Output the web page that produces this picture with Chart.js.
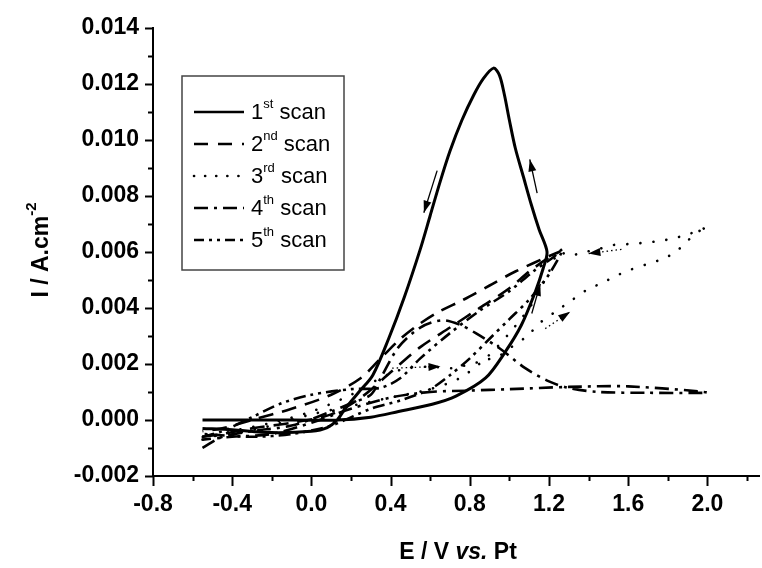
<!DOCTYPE html>
<html>
<head>
<meta charset="utf-8">
<script src="https://cdn.jsdelivr.net/npm/chart.js@4.4.1/dist/chart.umd.min.js"></script>
<style>
  html, body { margin: 0; padding: 0; background: #fff; }
  #wrap { position: relative; width: 762px; height: 568px; }
</style>
</head>
<body>
<div id="wrap"><canvas id="cv" width="762" height="568"></canvas></div>
<script>
// potential (V vs Pt) and current density (A/cm2) for each scan
const e1 = [-0.55, -0.2, 0.13, 0.3, 0.44, 0.61, 0.73, 0.88, 0.98, 1.06, 1.13, 1.17, 1.19,
            1.15, 1.11, 1.07, 1.03, 1.0, 0.975, 0.95, 0.92, 0.87, 0.82, 0.76, 0.7, 0.65, 0.6, 0.55,
            0.47, 0.39, 0.31, 0.24, 0.17, 0.13, 0.08, 0.0, -0.2, -0.4, -0.55];
const i1 = [0, 0, 0, 0.0001, 0.0003, 0.00056, 0.00085, 0.0015, 0.00244, 0.00338, 0.00456, 0.0054, 0.006,
            0.0068, 0.0077, 0.0087, 0.0097, 0.0107, 0.0116, 0.0123, 0.01256, 0.0122, 0.0116, 0.0107, 0.0096, 0.0085, 0.0073, 0.0061,
            0.0044, 0.0029, 0.0016, 0.001, 0.0004, 0.0, -0.00027, -0.0004, -0.00045, -0.00035, -0.0003];

const e2 = [-0.55, -0.45, -0.3, -0.1, 0.1, 0.25, 0.4, 0.55, 0.7, 0.85, 1.0, 1.1, 1.2, 1.25,
            1.03, 0.9, 0.77, 0.64, 0.54, 0.45, 0.35, 0.25, 0.1, -0.1, -0.3, -0.45, -0.55];
const i2 = [-0.0006, -0.0005, -0.0003, -0.0001, 0.0002, 0.0008, 0.0017, 0.0026, 0.0033, 0.004, 0.0047, 0.0053, 0.0058, 0.006,
            0.0053, 0.0048, 0.0043, 0.00385, 0.0034, 0.0029, 0.0022, 0.0015, 0.0009, 0.0004, 0.0, -0.0003, -0.0004];

const e3 = [-0.55, -0.4, -0.2, 0.0, 0.2, 0.35, 0.48, 0.61, 0.71, 0.79, 0.86, 0.95, 1.01, 1.09, 1.16, 1.24, 1.32,
            1.39, 1.47, 1.54, 1.61, 1.69, 1.77, 1.84, 1.9, 1.97, 2.0,
            1.97, 1.89, 1.82, 1.75, 1.67, 1.6, 1.52, 1.45, 1.37, 1.3, 1.25, 1.2, 1.12, 1.0, 0.88, 0.75,
            0.6, 0.4, 0.2, 0.0, -0.2, -0.4, -0.55];
const i3 = [-0.0007, -0.0004, -0.0001, 0.0003, 0.0009, 0.0015, 0.00185, 0.0019, 0.00185, 0.00197, 0.0021, 0.0023, 0.0026, 0.003, 0.0035, 0.0039, 0.0043,
            0.00464, 0.0049, 0.00515, 0.00536, 0.00555, 0.00574, 0.006, 0.0064, 0.0068, 0.0069,
            0.0068, 0.0066, 0.00647, 0.00638, 0.00632, 0.00628, 0.00624, 0.0061, 0.00598, 0.00586, 0.006, 0.0053, 0.0042, 0.0031, 0.0022, 0.0015,
            0.0011, 0.0008, 0.0005, 0.0002, -0.0002, -0.0005, -0.0006];

const e4 = [-0.55, -0.45, -0.3, -0.1, 0.1, 0.2, 0.3, 0.35, 0.44, 0.55, 0.66, 0.75, 0.83, 0.95, 1.08, 1.2, 1.3, 1.45, 1.7, 2.0,
            1.6, 1.3, 1.0, 0.8, 0.6, 0.4, 0.2, 0.0, -0.2, -0.4, -0.55];
const i4 = [-0.001, -0.0006, -0.0004, -0.0002, 0.0003, 0.0006, 0.0009, 0.0015, 0.0026, 0.0033, 0.00356, 0.0034, 0.0031, 0.00256, 0.00185, 0.00138, 0.00114, 0.001, 0.00097, 0.00098,
            0.0012, 0.00118, 0.0011, 0.00105, 0.001, 0.0008, 0.0004, -0.0001, -0.0005, -0.0006, -0.0007];

const e5 = [-0.55, -0.45, -0.3, -0.15, 0.0, 0.2, 0.35, 0.45, 0.55, 0.7, 0.85, 1.0, 1.12, 1.22, 1.27,
            1.2, 1.1, 1.0, 0.9, 0.8, 0.7, 0.6, 0.45, 0.3, 0.1, -0.1, -0.3, -0.55];
const i5 = [-0.0006, -0.0004, 0.0001, 0.0006, 0.0009, 0.0011, 0.00115, 0.0015, 0.0022, 0.0031, 0.0039, 0.0046, 0.0053, 0.0058, 0.0061,
            0.0052, 0.0043, 0.0036, 0.0029, 0.0022, 0.0016, 0.0011, 0.0007, 0.0004, -0.0002, -0.0005, -0.0006, -0.0005];

const scanNames = ['1st', '2nd', '3rd', '4th', '5th'];
const xTicks = [-0.8, -0.6, -0.4, -0.2, 0.0, 0.2, 0.4, 0.6, 0.8, 1.0, 1.2, 1.4, 1.6, 1.8, 2.0, 2.2];
const yTicks = [-0.002, -0.001, 0, 0.001, 0.002, 0.003, 0.004, 0.005, 0.006, 0.007, 0.008, 0.009, 0.010, 0.011, 0.012, 0.013, 0.014];

// direction arrows: [tailE, tailI, headE, headI, dotted shaft]
const arrows = [
  [0.635, 0.0089, 0.568, 0.0074, false],
  [1.14, 0.0081, 1.103, 0.0093, false],
  [1.566, 0.00609, 1.399, 0.00594, true],
  [1.181, 0.00326, 1.307, 0.00386, true],
  [0.408, 0.00185, 0.652, 0.00191, true],
  [1.113, 0.0038, 1.156, 0.00486, false]
];

const dashes = [[], [15, 9], [0.1, 13], [14, 6, 3, 6], [12, 5, 3, 5, 3, 5]];
const legendDashes = [[], [14, 10], [0.1, 11], [14, 6, 3, 6], [10, 5, 3, 5, 3, 5]];

function pts(es, is) { return es.map((e, k) => ({ x: e, y: is[k] })); }

const series = [[e1, i1], [e2, i2], [e3, i3], [e4, i4], [e5, i5]];
const datasets = series.map((s, k) => ({
  label: scanNames[k] + ' scan',
  data: pts(s[0], s[1]),
  showLine: true,
  borderColor: '#000',
  borderWidth: k === 0 ? 3 : 2.6,
  borderDash: dashes[k],
  borderCapStyle: k === 2 ? 'round' : 'butt',
  pointRadius: 0,
  tension: 0.3,
  fill: false
}));

const FONT = '"Liberation Sans", Arial, sans-serif';
const TICK_PX = 23;

function arrowHead(ctx, x0, y0, x1, y1, len, half) {
  const a = Math.atan2(y1 - y0, x1 - x0);
  ctx.beginPath();
  ctx.moveTo(x1, y1);
  ctx.lineTo(x1 - len * Math.cos(a) + half * Math.sin(a), y1 - len * Math.sin(a) - half * Math.cos(a));
  ctx.lineTo(x1 - len * Math.cos(a) - half * Math.sin(a), y1 - len * Math.sin(a) + half * Math.cos(a));
  ctx.closePath();
  ctx.fill();
}

const decor = {
  id: 'decor',
  afterDraw(chart) {
    const ctx = chart.ctx;
    const xs = chart.scales.x, ys = chart.scales.y;
    const area = chart.chartArea;
    ctx.save();
    ctx.strokeStyle = '#000';
    ctx.fillStyle = '#000';
    ctx.lineWidth = 2;
    ctx.setLineDash([]);

    // tick marks, long on labelled values
    xTicks.forEach((v, k) => {
      const px = Math.round(xs.getPixelForValue(v)) + 0.5;
      const len = k % 2 === 0 ? 10 : 5;
      ctx.beginPath(); ctx.moveTo(px, area.bottom); ctx.lineTo(px, area.bottom + len); ctx.stroke();
    });
    yTicks.forEach((v, k) => {
      const py = Math.round(ys.getPixelForValue(v)) + 0.5;
      const len = k % 2 === 0 ? 8 : 5;
      ctx.beginPath(); ctx.moveTo(area.left, py); ctx.lineTo(area.left - len, py); ctx.stroke();
    });

    // arrows
    arrows.forEach(a => {
      const x0 = xs.getPixelForValue(a[0]), y0 = ys.getPixelForValue(a[1]);
      const x1 = xs.getPixelForValue(a[2]), y1 = ys.getPixelForValue(a[3]);
      ctx.lineWidth = 1.3;
      ctx.setLineDash(a[4] ? [1.5, 3] : []);
      ctx.beginPath(); ctx.moveTo(x0, y0); ctx.lineTo(x1, y1); ctx.stroke();
      ctx.setLineDash([]);
      arrowHead(ctx, x0, y0, x1, y1, 12, 4);
    });

    // legend
    ctx.lineWidth = 1.5;
    ctx.strokeStyle = '#444';
    ctx.strokeRect(182, 76, 162, 194);
    ctx.strokeStyle = '#000';
    scanNames.forEach((n, k) => {
      const cy = 112 + k * 32;
      ctx.lineWidth = 2.6;
      ctx.lineCap = k === 2 ? 'round' : 'butt';
      ctx.setLineDash(legendDashes[k]);
      ctx.beginPath(); ctx.moveTo(194, cy); ctx.lineTo(244, cy); ctx.stroke();
      ctx.setLineDash([]);
      ctx.lineCap = 'butt';
      ctx.textBaseline = 'middle';
      ctx.textAlign = 'left';
      ctx.font = '22px ' + FONT;
      const num = n.charAt(0), sup = n.slice(1);
      ctx.fillText(num, 251, cy + 1);
      let x = 251 + ctx.measureText(num).width;
      ctx.font = '13px ' + FONT;
      ctx.fillText(sup, x, cy - 8);
      x += ctx.measureText(sup).width;
      ctx.font = '22px ' + FONT;
      ctx.fillText(' scan', x, cy + 1);
    });

    // axis titles
    ctx.fillStyle = '#000';
    ctx.textBaseline = 'middle';
    ctx.textAlign = 'left';
    const parts = [['E / V ', 'bold 23px '], ['vs.', 'italic bold 23px '], [' Pt', 'bold 23px ']];
    let w = 0;
    parts.forEach(p => { ctx.font = p[1] + FONT; w += ctx.measureText(p[0]).width; });
    let x = 458 - w / 2;
    parts.forEach(p => { ctx.font = p[1] + FONT; ctx.fillText(p[0], x, 553); x += ctx.measureText(p[0]).width; });

    ctx.translate(40, 250);
    ctx.rotate(-Math.PI / 2);
    ctx.font = 'bold 23px ' + FONT;
    const main = 'I / A.cm';
    const mw = ctx.measureText(main).width;
    ctx.font = 'bold 15px ' + FONT;
    const sw = ctx.measureText('-2').width;
    ctx.font = 'bold 23px ' + FONT;
    ctx.fillText(main, -(mw + sw) / 2, 2);
    ctx.font = 'bold 15px ' + FONT;
    ctx.fillText('-2', -(mw + sw) / 2 + mw, -8);
    ctx.restore();
  }
};

new Chart(document.getElementById('cv'), {
  type: 'scatter',
  data: { datasets: datasets },
  options: {
    responsive: false,
    animation: false,
    layout: { padding: { top: 24, right: 0, left: 0, bottom: 0 } },
    plugins: { legend: { display: false }, tooltip: { enabled: false } },
    scales: {
      x: {
        type: 'linear',
        min: -0.8,
        max: 2.265,
        afterBuildTicks: s => { s.ticks = xTicks.map(v => ({ value: v })); },
        afterFit: s => { s.height = 92; },
        grid: { display: false, drawTicks: false },
        border: { display: true, color: '#000', width: 2 },
        ticks: {
          autoSkip: false,
          maxRotation: 0,
          padding: 15,
          color: '#000',
          font: { family: FONT, size: TICK_PX, weight: 'bold' },
          callback: (v, k) => (k % 2 === 0 ? v.toFixed(1) : '')
        }
      },
      y: {
        type: 'linear',
        min: -0.002,
        max: 0.014,
        afterBuildTicks: s => { s.ticks = yTicks.map(v => ({ value: v })); },
        afterFit: s => { s.width = 153; },
        grid: { display: false, drawTicks: false },
        border: { display: true, color: '#000', width: 2 },
        ticks: {
          autoSkip: false,
          padding: 14,
          color: '#000',
          font: { family: FONT, size: TICK_PX, weight: 'bold' },
          callback: (v, k) => (k % 2 === 0 ? v.toFixed(3) : '')
        }
      }
    }
  },
  plugins: [decor]
});
</script>
</body>
</html>
